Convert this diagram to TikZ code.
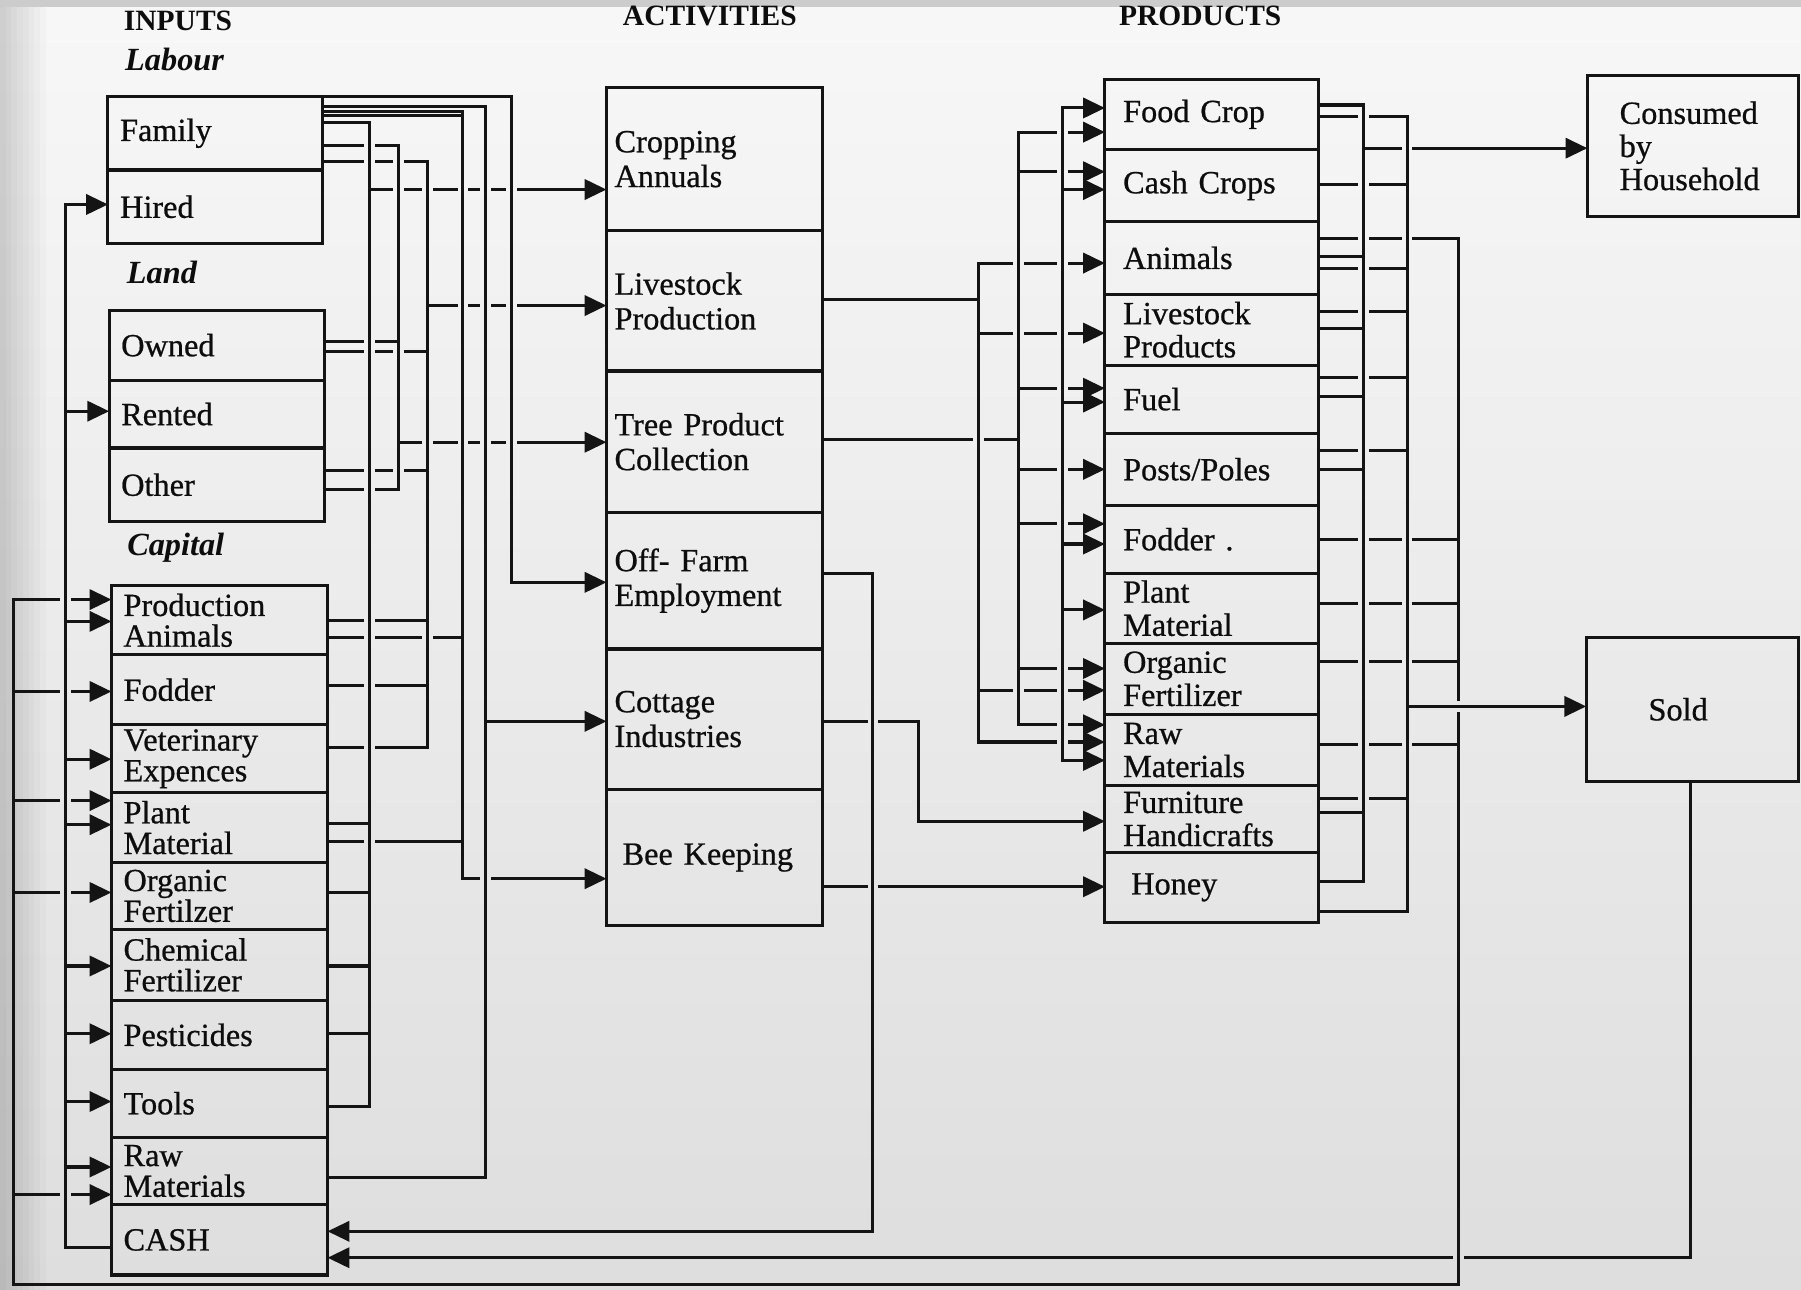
\documentclass[tikz,border=0pt]{standalone}
\usepackage{fontspec}
\setmainfont{Liberation Serif}
\newfontfamily\heavy[FakeBold=0.7]{Liberation Serif}
\usetikzlibrary{arrows.meta}
\begin{document}
\begin{tikzpicture}[x=0.01cm,y=-0.01cm,
  ln/.style={line width=0.75pt, draw=black!92, line cap=rect},
  arr/.style={-{Triangle[length=5.4pt,width=5pt]}},
  box/.style={draw=black!92, line width=0.75pt, rectangle, anchor=north west, outer sep=0pt,
    inner ysep=0pt, align=left, font=\heavy\fontsize{8}{8.2}\selectfont, text=black!95},
  lbox/.style={box, inner xsep=3pt, text width=1.66cm},
  lboxc/.style={box, inner xsep=3pt, text width=1.67cm, font=\heavy\fontsize{8}{7.6}\selectfont},
  abox/.style={box, inner xsep=2pt, text width=1.74cm, font=\heavy\fontsize{8}{8.6}\selectfont},
  pbox/.style={box, inner xsep=4.5pt, text width=1.544cm},
  hd/.style={font=\bfseries\fontsize{7.3}{8}\selectfont, inner sep=0pt, text=black!95},
  sub/.style={font=\bfseries\itshape\fontsize{8}{9}\selectfont, inner sep=0pt, text=black!95}]
\useasboundingbox (0,0) rectangle (1568,1123);
% background
\shade[top color=black!3, bottom color=black!13] (0,0) rectangle (1568,1123);
\fill[black!20] (0,0) rectangle (1568,6);
\foreach \i in {0,...,7} \fill[black,opacity=0.02] (0,6) rectangle ({40-5*\i},1123);

% headers
\node[hd] (hin) at (155,18) {INPUTS};
\node[hd] (hact) at (618,14) {ACTIVITIES};
\node[hd] (hprod) at (1045,14) {PRODUCTS};
\node[sub] (hlab) at (152,52) {Labour};
\node[sub] (hland) at (141,237) {Land};
\node[sub] (hcap) at (153,477) {Capital};

% inputs
\node[lbox, minimum height=0.64cm] (family) at (94,84) {Family};
\node[lbox, minimum height=0.64cm] (hired) at (94,148) {Hired};
\node[lbox, minimum height=0.61cm] (owned) at (95,270) {Owned};
\node[lbox, minimum height=0.59cm] (rented) at (95,331) {Rented};
\node[lbox, minimum height=0.64cm] (other) at (95,390) {Other};
\node[lboxc, minimum height=0.60cm] (prodanim) at (97,510) {Production\\Animals};
\node[lboxc, minimum height=0.61cm] (fodderin) at (97,570) {Fodder};
\node[lboxc, minimum height=0.59cm] (vet) at (97,631) {Veterinary\\Expences};
\node[lboxc, minimum height=0.61cm] (plantin) at (97,690) {Plant\\Material};
\node[lboxc, minimum height=0.58cm] (orgin) at (97,751) {Organic\\Fertilzer};
\node[lboxc, minimum height=0.62cm] (chem) at (97,809) {Chemical\\Fertilizer};
\node[lboxc, minimum height=0.60cm] (pest) at (97,871) {Pesticides};
\node[lboxc, minimum height=0.59cm] (tools) at (97,931) {Tools};
\node[lboxc, minimum height=0.59cm] (rawin) at (97,990) {Raw\\Materials};
\node[lboxc, minimum height=0.61cm] (cash) at (97,1049) {CASH};

% activities
\node[abox, minimum height=1.25cm] (crop) at (528,76) {Cropping\\Annuals};
\node[abox, minimum height=1.22cm] (livestock) at (528,201) {Livestock\\Production};
\node[abox, minimum height=1.23cm] (tree) at (528,323) {Tree Product\\Collection};
\node[abox, minimum height=1.19cm] (offfarm) at (528,446) {Off- Farm\\Employment};
\node[abox, minimum height=1.22cm] (cottage) at (528,565) {Cottage\\Industries};
\node[abox, minimum height=1.19cm] (bee) at (528,687) {\hspace*{2pt}Bee Keeping};

% products
\node[pbox, minimum height=0.61cm] (foodcrop) at (962,69) {Food Crop};
\node[pbox, minimum height=0.63cm] (cashcrop) at (962,130) {Cash Crops};
\node[pbox, minimum height=0.63cm] (animals) at (962,193) {Animals};
\node[pbox, minimum height=0.62cm] (lsprod) at (962,256) {Livestock\\Products};
\node[pbox, minimum height=0.59cm] (fuel) at (962,318) {Fuel};
\node[pbox, minimum height=0.63cm] (posts) at (962,377) {Posts/Poles};
\node[pbox, minimum height=0.59cm] (fodderout) at (962,440) {Fodder .};
\node[pbox, minimum height=0.61cm] (plantout) at (962,499) {Plant\\Material};
\node[pbox, minimum height=0.62cm] (orgout) at (962,560) {Organic\\Fertilizer};
\node[pbox, minimum height=0.62cm] (rawout) at (962,622) {Raw\\Materials};
\node[pbox, minimum height=0.58cm] (furn) at (962,684) {Furniture\\Handicrafts};
\node[pbox, minimum height=0.61cm] (honey) at (962,742) {\hspace*{2pt}Honey};

% destinations
\node[box, inner xsep=8pt, text width=1.278cm, minimum height=1.22cm] (consumed) at (1382,66) {Consumed\\by\\Household};
\node[box, align=center, inner xsep=0.1cm, text width=1.65cm, minimum height=1.25cm] (sold) at (1381,555) {Sold\hspace*{0.25cm}};

% ---------- inputs -> activities ----------
% bus 445 -> Off-Farm
\draw[ln,arr] (family.north east) -- (445,84) -- (445,507) -- (offfarm.west |- 0,507);
% bus 423 -> Cottage
\draw[ln] (family.east |- 0,93) -- (423,93) -- (423,1025) -- (rawin.east |- 0,1025);
\draw[ln,arr] (423,628) -- (cottage.west |- 0,628);
% bus 403 -> Bee Keeping
\draw[ln] (family.east |- 0,97) -- (403,97) -- (403,765) -- (417,765);
\draw[ln] (family.east |- 0,100.5) -- (403,100.5);
\draw[ln] (prodanim.east |- 0,555) -- (316,555) (328,555) -- (366,555) (378,555) -- (403,555);
\draw[ln] (plantin.east |- 0,733) -- (316,733) (328,733) -- (403,733);
\draw[ln,arr] (429,765) -- (bee.west |- 0,765);
% bus 372 -> Livestock Production
\draw[ln] (372,141) -- (372,651);
\foreach \n/\y in {family/141, owned/306, other/410}
  \draw[ln] (\n.east |- 0,\y) -- (316,\y) (328,\y) -- (341,\y) (353,\y) -- (372,\y);
\foreach \n/\y in {prodanim/540, fodderin/597, vet/651}
  \draw[ln] (\n.east |- 0,\y) -- (316,\y) (328,\y) -- (372,\y);
\draw[ln] (372,266) -- (397,266) (409,266) -- (417,266) (429,266) -- (439,266);
\draw[ln,arr] (451,266) -- (livestock.west |- 0,266);
% bus 347 -> Tree Product Collection
\draw[ln] (347,127) -- (347,426);
\foreach \n/\y in {family/127, owned/297, other/426}
  \draw[ln] (\n.east |- 0,\y) -- (316,\y) (328,\y) -- (347,\y);
\draw[ln] (347,385) -- (366,385) (378,385) -- (397,385) (409,385) -- (417,385) (429,385) -- (439,385);
\draw[ln,arr] (451,385) -- (tree.west |- 0,385);
% bus 322 -> Cropping Annuals
\draw[ln] (family.east |- 0,107) -- (322,107) -- (322,963) -- (tools.east |- 0,963);
\foreach \n/\y in {plantin/717, orgin/777, chem/841, pest/900}
  \draw[ln] (\n.east |- 0,\y) -- (322,\y);
\draw[ln] (322,165) -- (341,165) (353,165) -- (366,165) (378,165) -- (397,165) (409,165) -- (417,165) (429,165) -- (439,165);
\draw[ln,arr] (451,165) -- (crop.west |- 0,165);

% ---------- cash distribution (inner) ----------
\draw[ln] (cash.west |- 0,1086) -- (57,1086) -- (57,178);
\foreach \n/\y in {hired/178, rented/358, prodanim/541, vet/661, plantin/718, chem/841, pest/900, tools/959, rawin/1016}
  \draw[ln,arr] (57,\y) -- (\n.west |- 0,\y);
% ---------- recycled products (outer) ----------
\draw[ln] (1270,621) -- (1270,1118) -- (12,1118) -- (12,522);
\foreach \n/\y in {prodanim/522, fodderin/602, plantin/697, orgin/777, rawin/1040}
  {\draw[ln] (12,\y) -- (51,\y); \draw[ln,arr] (63,\y) -- (\n.west |- 0,\y);}

% ---------- cash returns ----------
\draw[ln,arr] (offfarm.east |- 0,499) -- (760,499) -- (760,1072) -- (cash.east |- 0,1072);
\draw[ln] (sold.south -| 1472,0) -- (1472,1095) -- (1276,1095);
\draw[ln,arr] (1264,1095) -- (cash.east |- 0,1095);

% ---------- activities -> products ----------
\draw[ln] (cottage.east |- 0,628) -- (754,628);
\draw[ln,arr] (766,628) -- (800,628) -- (800,715) -- (furn.west |- 0,715);
\draw[ln] (bee.east |- 0,772) -- (754,772);
\draw[ln,arr] (766,772) -- (honey.west |- 0,772);
% livestock bus 852
\draw[ln] (livestock.east |- 0,261) -- (852,261);
\draw[ln] (852,229) -- (852,646);
\foreach \n/\y in {animals/229, lsprod/290, orgout/601}
  {\draw[ln] (852,\y) -- (881,\y) (893,\y) -- (919,\y); \draw[ln,arr] (931,\y) -- (\n.west |- 0,\y);}
\draw[ln] (852,646) -- (919,646);
\draw[ln,arr] (931,646) -- (rawout.west |- 0,646);
% tree bus 887
\draw[ln] (tree.east |- 0,383) -- (846,383) (858,383) -- (887,383);
\draw[ln] (887,115) -- (887,631);
\foreach \n/\y in {foodcrop/115, cashcrop/149.5, fuel/338, posts/408.6, fodderout/456, orgout/582, rawout/631}
  {\draw[ln] (887,\y) -- (919,\y); \draw[ln,arr] (931,\y) -- (\n.west |- 0,\y);}
% bus 925
\draw[ln] (925,94) -- (925,662);
\foreach \n/\y in {foodcrop/94, cashcrop/165, fuel/350, fodderout/473.6, plantout/531, rawout/662}
  \draw[ln,arr] (925,\y) -- (\n.west |- 0,\y);

% ---------- products -> destinations ----------
% household bus 1187
\draw[ln] (1187,91.4) -- (1187,767.6);
\foreach \n/\y in {foodcrop/91.4, animals/223, lsprod/286, fuel/345, posts/409, furn/707.6, honey/767.6}
  \draw[ln] (\n.east |- 0,\y) -- (1187,\y);
\draw[ln] (1187,129) -- (1219,129);
\draw[ln,arr] (1231,129) -- (consumed.west |- 0,129);
% sold bus 1225
\draw[ln] (1225,101.6) -- (1225,793.7) -- (honey.east |- 0,793.7);
\foreach \n/\y in {foodcrop/101.6, cashcrop/161, animals/233.6, lsprod/271, fuel/329, posts/391.8, furn/695}
  \draw[ln] (\n.east |- 0,\y) -- (1181,\y) (1193,\y) -- (1225,\y);
\draw[ln,arr] (1225,615) -- (sold.west |- 0,615);
% recycle bus 1270
\draw[ln] (1270,207.5) -- (1270,609);
\foreach \n/\y in {animals/207.5, fodderout/469.3, plantout/525, orgout/575.5, rawout/648}
  \draw[ln] (\n.east |- 0,\y) -- (1181,\y) (1193,\y) -- (1219,\y) (1231,\y) -- (1270,\y);
\end{tikzpicture}
\end{document}
